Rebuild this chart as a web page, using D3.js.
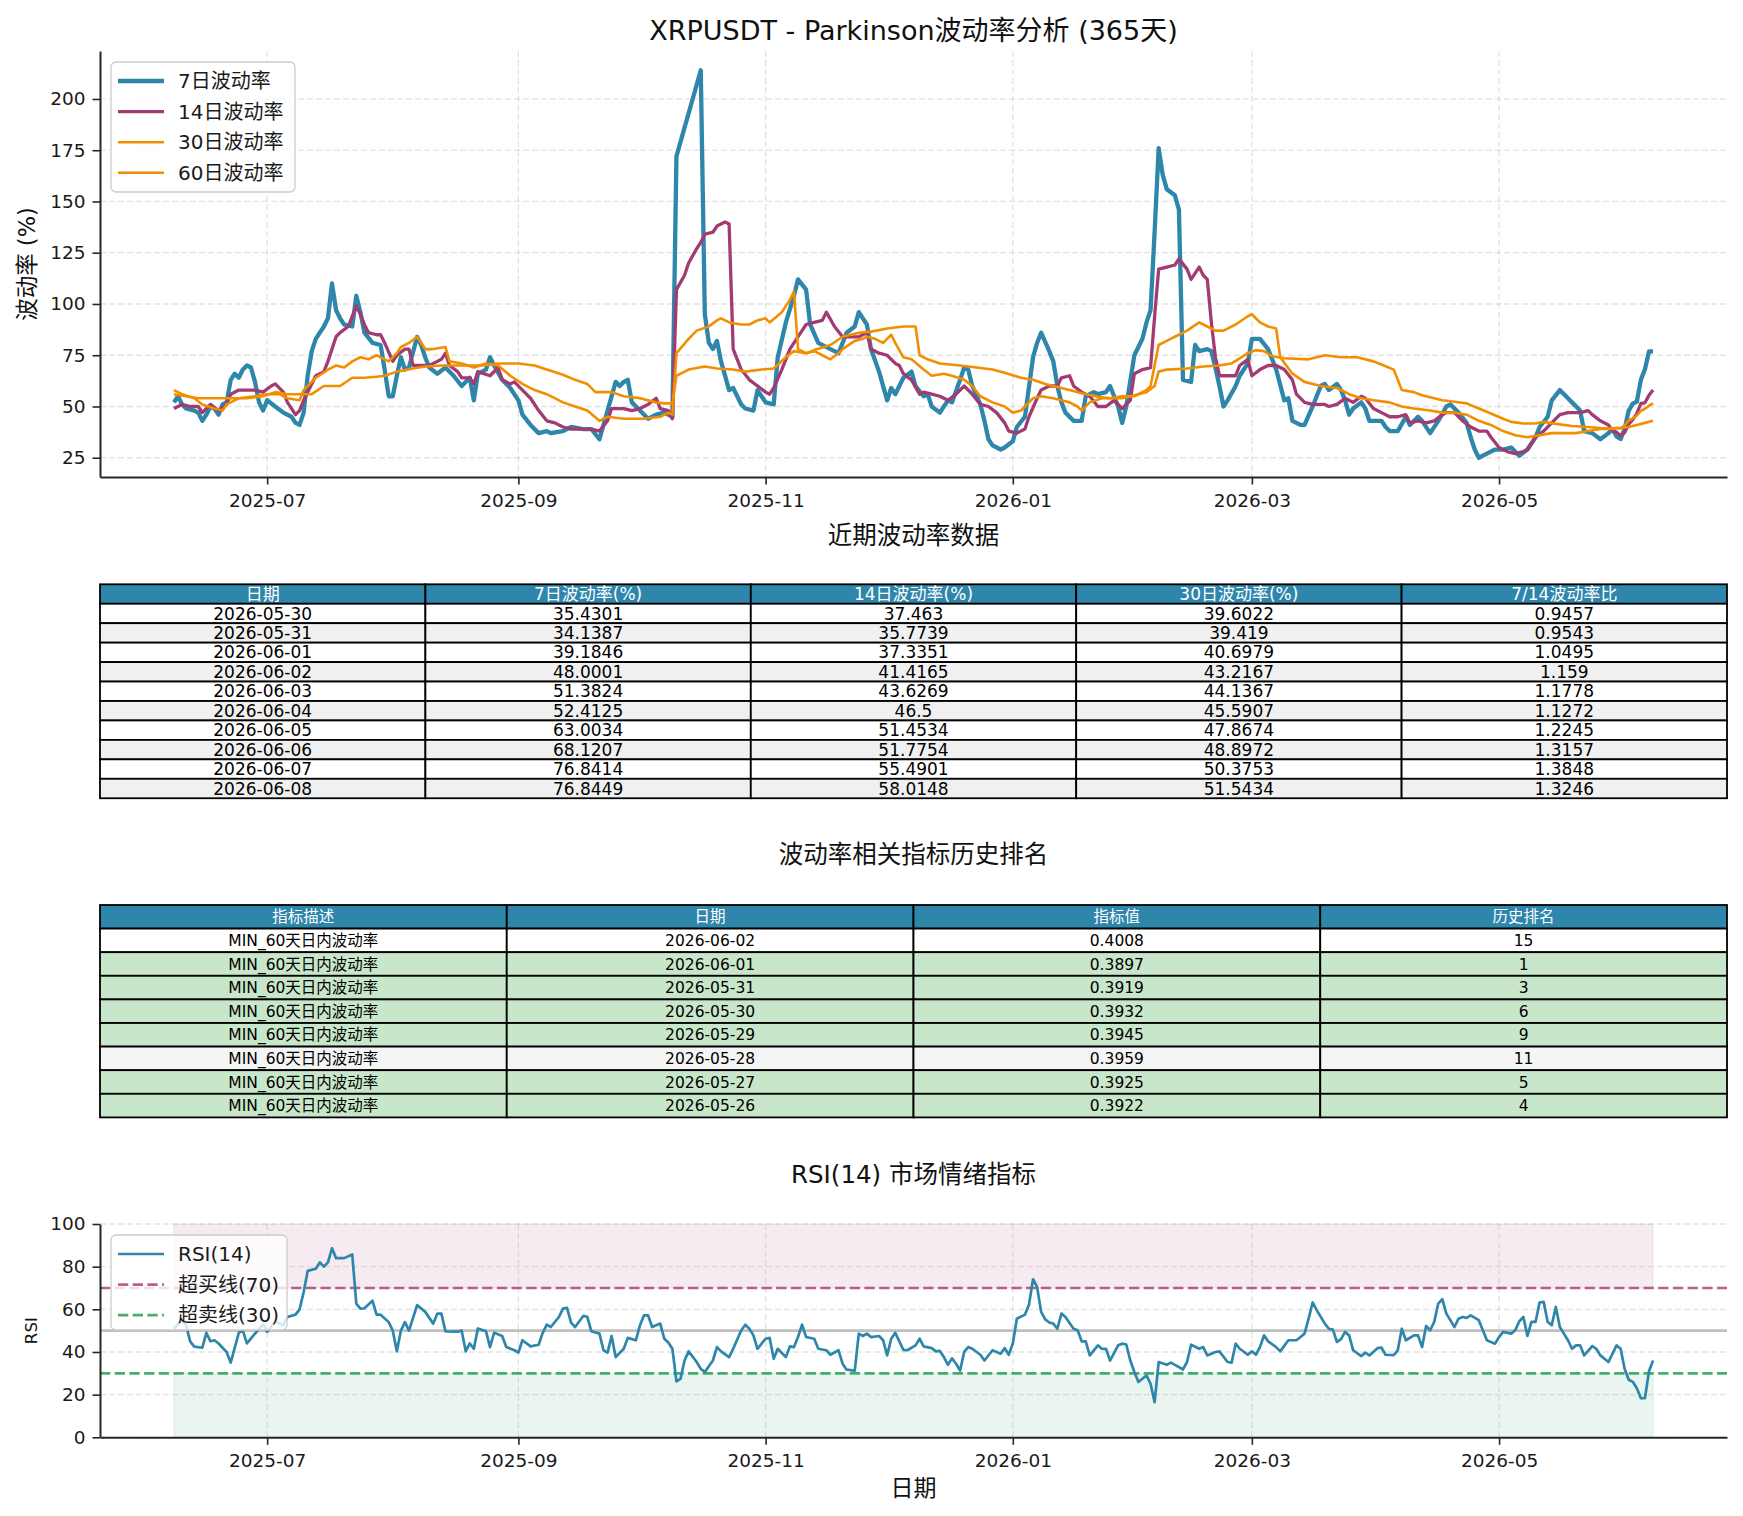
<!DOCTYPE html>
<html>
<head>
<meta charset="utf-8">
<script src="https://cdn.jsdelivr.net/npm/d3@7"></script>
<style>
  body { margin: 0; background: #fff; }
  text { font-family: "DejaVu Sans", "Noto Sans CJK SC", sans-serif; }
</style>
</head>
<body>
<svg id="chart"></svg>
<script>
// series are [day offset from START, value]
var START = "2025-06-08";
var END = "2026-06-08";

var vol7 = [[0,52],[1,55],[2,51],[3,49],[5,48],[6,47],[7,43],[8,46],[9,50],[10,49],[11,46],[12,51],[13,52],[14,63],[15,66],[16,64],[17,68],[18,70],[19,69],[20,62],[21,52],[22,48],[23,53],[25,50],[27,47],[29,45],[30,42],[31,41],[32,47],[33,65],[34,77],[35,83],[36,86],[37,89],[38,93],[39,110],[40,97],[41,93],[42,90],[44,89],[45,104],[46,96],[47,86],[49,81],[51,80],[52,68],[53,55],[54,55],[55,65],[56,74],[57,68],[58,69],[60,84],[61,80],[62,74],[63,69],[65,66],[67,69],[69,65],[71,60],[73,64],[74,53],[75,66],[77,68],[78,74],[79,70],[81,63],[83,59],[85,53],[86,46],[88,41],[90,37],[92,38],[93,37],[96,38],[98,40],[101,39],[103,39],[105,34],[107,48],[109,62],[110,60],[111,62],[112,63],[113,52],[115,48],[117,44],[119,46],[121,47],[123,45],[124,172],[126,186],[127,193],[128,200],[130,214],[131,95],[132,81],[133,78],[134,82],[135,72],[137,58],[138,59],[140,51],[141,49],[143,48],[144,58],[146,52],[148,51],[149,74],[151,91],[153,104],[154,112],[156,107],[157,90],[159,81],[162,78],[164,76],[166,86],[168,89],[169,96],[171,90],[172,78],[174,67],[176,53],[177,59],[178,56],[180,64],[182,67],[183,60],[185,55],[186,56],[187,50],[189,47],[191,53],[192,52],[194,63],[195,69],[196,68],[197,60],[199,51],[200,43],[201,34],[202,31],[204,29],[205,30],[207,33],[208,40],[210,45],[212,74],[213,81],[214,86],[216,77],[217,72],[218,60],[219,52],[220,47],[222,43],[224,43],[225,55],[227,57],[228,56],[230,57],[231,60],[233,50],[234,42],[235,50],[237,75],[239,83],[240,91],[241,97],[242,135],[243,176],[244,163],[245,156],[247,153],[248,146],[249,63],[251,62],[252,80],[253,77],[255,78],[256,77],[257,69],[258,60],[259,50],[260,53],[262,60],[263,65],[265,71],[266,83],[268,83],[270,78],[272,68],[274,53],[275,54],[276,43],[278,41],[279,41],[281,50],[283,60],[284,61],[285,58],[287,61],[288,58],[289,53],[290,46],[291,49],[293,52],[294,49],[295,43],[298,43],[299,40],[300,38],[302,38],[304,45],[305,41],[307,45],[308,43],[310,37],[312,43],[314,50],[315,51],[317,47],[319,42],[320,35],[321,29],[322,25],[324,27],[326,29],[328,29],[330,30],[332,26],[334,29],[336,35],[337,40],[339,45],[340,53],[342,58],[344,54],[345,52],[347,48],[348,38],[350,37],[352,34],[354,37],[355,39],[356,35.43],[357,34.14],[358,39.18],[359,48.0],[360,51.38],[361,52.41],[362,63.0],[363,68.12],[364,76.84],[365,76.84]];

var vol14 = [[0,49],[2,51],[4,50],[6,50],[7,47],[9,51],[11,48],[13,51],[14,56],[16,58],[18,58],[20,58],[22,57],[24,60],[25,61],[27,57],[28,52],[30,46],[31,48],[32,53],[34,61],[35,65],[37,67],[38,72],[40,84],[41,86],[43,89],[44,94],[45,99],[46,95],[47,90],[48,86],[50,85],[51,85],[52,81],[54,72],[55,75],[57,78],[58,78],[59,70],[61,70],[63,70],[65,72],[66,73],[67,76],[68,70],[70,67],[71,64],[73,64],[74,61],[75,67],[78,65],[80,69],[81,63],[83,61],[84,62],[86,58],[88,54],[90,48],[92,43],[94,42],[96,40],[98,39],[101,39],[103,39],[105,38],[107,43],[108,49],[111,49],[113,48],[115,49],[117,51],[119,54],[120,49],[122,48],[123,44],[124,107],[126,114],[127,120],[129,127],[130,130],[131,134],[133,135],[134,138],[136,140],[137,139],[138,78],[139,73],[140,68],[142,63],[144,60],[146,57],[147,56],[148,59],[150,68],[152,78],[153,81],[155,87],[156,90],[158,91],[160,92],[161,96],[163,89],[165,84],[167,84],[169,84],[171,86],[172,78],[174,76],[176,75],[178,71],[179,70],[180,66],[182,63],[184,56],[185,57],[187,56],[189,55],[191,53],[193,56],[195,60],[197,56],[199,51],[201,50],[203,47],[205,42],[206,38],[208,37],[210,39],[211,45],[213,54],[214,58],[216,60],[218,60],[219,64],[221,65],[222,60],[224,57],[226,55],[228,50],[230,50],[232,53],[234,49],[236,53],[237,66],[239,68],[241,69],[242,94],[243,117],[245,118],[247,119],[248,122],[250,117],[251,112],[253,118],[254,114],[255,112],[256,91],[257,74],[258,65],[260,65],[262,65],[263,70],[265,73],[266,65],[268,68],[270,70],[272,70],[274,68],[276,63],[277,56],[279,52],[281,51],[284,51],[285,50],[287,51],[289,54],[291,52],[293,55],[294,54],[296,49],[298,47],[300,45],[302,45],[304,46],[305,42],[307,43],[309,42],[311,43],[313,46],[314,47],[316,47],[318,43],[320,40],[322,38],[324,38],[325,35],[327,30],[329,28],[331,27],[333,28],[334,29],[336,35],[338,38],[340,42],[342,46],[344,47],[345,47],[347,47],[349,48],[350,46],[352,43],[354,41],[355,38],[356,37.463],[357,35.7739],[358,37.3351],[359,41.4165],[360,43.6269],[361,46.5],[362,51.4534],[363,51.7754],[364,55.4901],[365,58.0148]];

var vol30 = [[0,58],[2,56],[5,54],[7,51],[10,49],[12,48],[13,51],[16,54],[20,55],[23,56],[26,56],[28,54],[31,53],[32,58],[35,64],[38,68],[40,70],[42,69],[44,72],[46,74],[48,73],[50,75],[53,72],[55,76],[56,79],[58,81],[60,84],[62,78],[64,78],[67,79],[68,72],[71,71],[74,69],[77,71],[80,70],[83,65],[86,61],[89,58],[92,56],[96,52],[99,50],[102,48],[105,43],[107,45],[111,44],[116,44],[120,45],[122,47],[123,46],[124,76],[127,83],[129,87],[132,89],[134,92],[135,93],[137,91],[140,90],[142,90],[144,92],[146,93],[147,91],[150,96],[152,102],[153,106],[154,78],[156,76],[158,77],[160,75],[162,73],[164,76],[165,78],[168,82],[170,83],[171,84],[173,83],[175,81],[177,85],[178,81],[180,74],[182,73],[185,68],[187,65],[190,66],[192,65],[195,63],[197,60],[199,55],[202,52],[205,50],[207,47],[209,48],[212,54],[214,55],[217,54],[219,53],[221,52],[223,50],[224,48],[226,52],[229,54],[231,54],[234,55],[237,55],[240,58],[241,60],[243,80],[245,82],[247,84],[250,87],[253,91],[255,89],[257,87],[259,87],[262,90],[265,94],[266,95],[268,91],[270,89],[272,88],[273,74],[276,66],[279,62],[283,60],[287,59],[290,56],[293,54],[296,53],[300,52],[303,50],[306,49],[310,48],[313,47],[316,47],[319,46],[322,43],[325,41],[328,38],[331,36],[334,35],[337,36],[340,37],[343,37],[346,37],[349,38],[352,39],[354,39],[356,39.6022],[357,39.419],[358,40.6979],[359,43.2167],[360,44.1367],[361,45.5907],[362,47.8674],[363,48.8972],[364,50.3753],[365,51.5434]];

var vol60 = [[0,56],[3,55],[6,54],[10,54],[14,54],[18,54],[22,55],[25,57],[28,56],[31,56],[34,56],[37,60],[41,60],[44,64],[47,64],[50,64.5],[52,65],[55,67],[59,68.5],[62,69.5],[66,70],[71,70],[76,70],[80,71],[85,71],[89,70],[92,68],[96,65.5],[99,63],[102,61],[104,57],[108,57],[111,55],[115,54],[119,52],[121,51.5],[123,51.5],[124,65],[127,68],[131,69.5],[134,68.5],[138,68],[141,67],[145,68],[148,68.5],[151,74],[153,77],[156,76],[158,77.5],[162,80],[165,84],[169,86],[172,86.5],[176,88],[180,89],[183,89],[184,75],[186,73],[189,71],[194,70],[198,69],[202,68],[205,66.5],[209,64],[212,63],[215,61],[218,59.5],[221,58],[224,56.5],[228,54.7],[231,54],[234,54],[236,55],[238,56],[240,57],[242,60],[243,67],[245,68],[250,68.5],[254,69.5],[258,70],[261,71],[263,73.5],[265,76],[267,77.5],[269,77],[271,74.5],[274,73.5],[280,73],[284,75],[288,74],[292,74],[296,72],[298,70.5],[301,68],[303,58],[306,57],[308,55.5],[311,54],[313,53],[316,52.3],[319,51.5],[322,49],[325,46.6],[328,44],[330,42.5],[333,41.7],[336,41.7],[338,42.5],[341,41.5],[345,40.5],[349,40],[352,39.5],[355,39.2],[357,39.5],[359,40],[361,41],[363,42],[365,43]];

var rsi14 = [[0,51],[2,55],[3,52.5],[4,45],[5,42.5],[7,42],[8,49],[9,45],[10,45.5],[11,44],[13,40],[14,35],[16,49],[17,50],[18,44],[20,48.6],[22,53],[23,49.4],[25,54.4],[27,52.5],[28,56.4],[30,57.5],[31,60],[32,68],[33,78],[35,79],[36,82],[37,80],[38,82],[39,88.6],[40,84],[42,84],[44,85.7],[45,62.7],[46,60.3],[47,60.5],[49,64],[50,57.5],[51,57.5],[53,54],[54,50],[55,40.3],[56,50],[57,54],[58,50],[60,62],[62,58.8],[64,53.3],[65,58],[66,58],[67,49.7],[70,49.5],[71,50],[72,40.3],[73,44],[74,41.5],[75,51],[77,49.7],[78,42.3],[79,49],[81,47.5],[82,42.3],[84,40.8],[85,39.7],[86,45.5],[88,42.6],[90,43.4],[91,49],[92,52.8],[93,51.7],[95,56.4],[96,60.3],[97,60.7],[98,53.8],[99,51.7],[101,56.9],[102,56.5],[103,49.7],[105,48.6],[106,40.8],[107,39.7],[108,47.5],[109,37.6],[111,41.5],[112,46.6],[114,45.5],[115,52.5],[116,57.2],[117,57.2],[118,51.7],[120,53.3],[121,46.2],[122,44.4],[123,41.5],[124,26.2],[125,27.4],[126,36],[127,40.3],[129,35.3],[130,32.1],[131,30.6],[133,36],[134,42.3],[135,40.3],[137,37.6],[138,41.5],[140,50.2],[141,52.8],[142,50.9],[143,47.8],[144,41.5],[146,46.2],[147,46.6],[148,36.8],[149,41.5],[151,37.6],[152,42.6],[153,42.3],[154,47],[155,52.8],[156,47],[158,46.2],[159,41.5],[161,40.8],[162,38.7],[164,40.8],[165,34.5],[166,31.7],[168,31.3],[169,48.6],[170,47.5],[171,48.6],[172,47],[174,47.5],[175,45.5],[176,38.4],[177,46.2],[178,49],[180,41],[181,40.8],[183,43.1],[184,46.2],[185,42.6],[187,41.8],[188,40.3],[189,40.5],[190,37.6],[191,34],[192,37],[193,34.5],[194,31.3],[195,40],[196,42.3],[197,41.5],[199,38.7],[200,36],[202,40.8],[204,39.2],[205,41.8],[206,38.7],[207,43.9],[208,55.6],[210,57.5],[211,62.2],[212,74.1],[213,70.5],[214,58.8],[215,55.3],[216,53.8],[217,53.3],[218,50.9],[219,58],[220,56.4],[222,50.9],[223,50.2],[224,45],[225,45],[226,38.4],[228,43.1],[229,41.5],[230,41.5],[231,36],[233,43.1],[234,43.9],[235,43.5],[236,36],[237,30.6],[238,25.9],[240,29],[241,25.1],[242,16.5],[243,35.3],[245,34],[246,35],[248,32.9],[249,31.8],[250,35.3],[251,43.4],[253,41.5],[254,42.3],[255,38.4],[257,40],[258,40.3],[260,35.3],[261,35],[262,43.9],[263,41.5],[265,38.7],[266,40.3],[267,38.7],[268,42.3],[269,47.8],[270,45],[272,42.3],[273,40.3],[275,45.5],[277,45.5],[278,47],[279,48.6],[280,55.6],[281,63.2],[282,59.6],[284,53.3],[285,50.9],[286,50.5],[287,44.7],[288,46],[289,49.4],[290,47.8],[291,40.8],[293,38.1],[294,39.7],[295,38.4],[297,41.8],[298,42],[299,38.7],[301,38.5],[302,40.8],[303,50.9],[304,45.5],[306,47.8],[307,47.8],[308,42.3],[309,52.2],[310,50.2],[311,54.1],[312,62.7],[313,64.7],[314,58],[316,51.7],[317,55.6],[318,56.4],[319,56],[320,57.2],[322,54.9],[323,50.2],[324,45.5],[326,43.9],[327,47],[328,49.4],[330,48.6],[331,50.2],[332,54.4],[333,56.4],[334,47.5],[335,54.1],[336,54.1],[337,63.2],[338,63.5],[339,54.1],[340,52.5],[341,61.1],[342,51.7],[343,48.6],[344,45.5],[345,41.5],[346,43.1],[347,43.1],[348,38.4],[350,42.8],[351,41.5],[352,38.4],[354,35.3],[355,39.2],[356,43.1],[357,41.5],[358,32],[359,27],[360,26],[361,23],[362,18.3],[363,18.3],[364,31],[365,36]];

var monthTicks = ["2025-07-01","2025-09-01","2025-11-01","2026-01-01","2026-03-01","2026-05-01"];
var volTicks = [25,50,75,100,125,150,175,200];
var rsiTicks = [0,20,40,60,80,100];

var recentHeaders = ["日期","7日波动率(%)","14日波动率(%)","30日波动率(%)","7/14波动率比"];
var recentDates = ["2026-05-30","2026-05-31","2026-06-01","2026-06-02","2026-06-03","2026-06-04","2026-06-05","2026-06-06","2026-06-07","2026-06-08"];
var recent7 = [35.4301,34.1387,39.1846,48.0001,51.3824,52.4125,63.0034,68.1207,76.8414,76.8449];
var recent14 = [37.463,35.7739,37.3351,41.4165,43.6269,46.5,51.4534,51.7754,55.4901,58.0148];
var recent30 = [39.6022,39.419,40.6979,43.2167,44.1367,45.5907,47.8674,48.8972,50.3753,51.5434];
var recentRatio = [0.9457,0.9543,1.0495,1.159,1.1778,1.1272,1.2245,1.3157,1.3848,1.3246];

var rankHeaders = ["指标描述","日期","指标值","历史排名"];
var rankDesc = ["MIN_60天日内波动率","MIN_60天日内波动率","MIN_60天日内波动率","MIN_60天日内波动率","MIN_60天日内波动率","MIN_60天日内波动率","MIN_60天日内波动率","MIN_60天日内波动率"];
var rankDates = ["2026-06-02","2026-06-01","2026-05-31","2026-05-30","2026-05-29","2026-05-28","2026-05-27","2026-05-26"];
var rankValues = [0.4008,0.3897,0.3919,0.3932,0.3945,0.3959,0.3925,0.3922];
var rankPos = [15,1,3,6,9,11,5,4];

var W = 1743, H = 1516;
var FONT = '"DejaVu Sans", "Noto Sans CJK SC", sans-serif';
var BLUE = "#2E86AB", PURPLE = "#A23B72", ORANGE = "#F18F01";
var GREEN = "#27A057";

var parse = d3.utcParse("%Y-%m-%d");
var start = parse(START), end = parse(END);
function day(d) { return d3.utcDay.offset(start, d); }

var svg = d3.select("#chart").attr("width", W).attr("height", H)
  .style("background", "#fff");

var left = 100, right = 1727;

var x = d3.scaleUtc()
  .domain([d3.utcHour.offset(start, -438), d3.utcHour.offset(end, 438)])
  .range([left, right]);

function styleAxis(g) {
  g.attr("font-family", FONT).attr("font-size", 18.5);
  g.select(".domain").attr("stroke", "#262626").attr("stroke-width", 2);
  g.selectAll(".tick line").attr("stroke", "#262626").attr("stroke-width", 1.6);
  g.selectAll(".tick text").attr("fill", "#1a1a1a");
}

function grid(g, yScale, yTicks, top, bottom) {
  g.selectAll(".gx").data(monthTicks).enter().append("line")
    .attr("x1", function(d){ return x(parse(d)); })
    .attr("x2", function(d){ return x(parse(d)); })
    .attr("y1", top).attr("y2", bottom)
    .attr("stroke", "#b0b0b0").attr("stroke-opacity", 0.35)
    .attr("stroke-width", 1.3).attr("stroke-dasharray", "6,3");
  g.selectAll(".gy").data(yTicks).enter().append("line")
    .attr("x1", left).attr("x2", right)
    .attr("y1", function(d){ return yScale(d); })
    .attr("y2", function(d){ return yScale(d); })
    .attr("stroke", "#b0b0b0").attr("stroke-opacity", 0.35)
    .attr("stroke-width", 1.3).attr("stroke-dasharray", "6,3");
}

function xAxis(g, yPos) {
  g.attr("transform", "translate(0," + yPos + ")")
    .call(d3.axisBottom(x)
      .tickValues(monthTicks.map(parse))
      .tickFormat(d3.utcFormat("%Y-%m"))
      .tickSize(7.5).tickSizeOuter(0).tickPadding(9));
  styleAxis(g);
}

function legend(g, items, x0, y0, w, h) {
  g.append("rect").attr("x", x0).attr("y", y0).attr("width", w).attr("height", h)
    .attr("rx", 5).attr("fill", "#fff").attr("fill-opacity", 0.8)
    .attr("stroke", "#cccccc").attr("stroke-width", 1.3);
  items.forEach(function(it, i) {
    var yy = y0 + 19 + i * 30.6;
    g.append("line").attr("x1", x0 + 7).attr("x2", x0 + 53)
      .attr("y1", yy).attr("y2", yy)
      .attr("stroke", it.color).attr("stroke-width", it.width)
      .attr("stroke-opacity", it.opacity || 1)
      .attr("stroke-dasharray", it.dash || null);
    g.append("text").attr("x", x0 + 67).attr("y", yy).attr("dy", "0.35em")
      .attr("font-size", 20).attr("fill", "#1a1a1a").text(it.name);
  });
}

// ---------- top chart: volatility ----------
var top1 = 51, bot1 = 477;
var y1 = d3.scaleLinear().domain([15.6, 223.4]).range([bot1, top1]);

svg.append("text").attr("x", (left + right) / 2).attr("y", 40)
  .attr("text-anchor", "middle").attr("font-size", 27).attr("fill", "#111")
  .text("XRPUSDT - Parkinson波动率分析 (365天)");

grid(svg.append("g"), y1, volTicks, top1, bot1);

var line1 = d3.line()
  .x(function(d){ return x(day(d[0])); })
  .y(function(d){ return y1(d[1]); });

var volSeries = [
  {name: "7日波动率", data: vol7, color: BLUE, width: 4.3},
  {name: "14日波动率", data: vol14, color: PURPLE, width: 3.3},
  {name: "30日波动率", data: vol30, color: ORANGE, width: 2.6},
  {name: "60日波动率", data: vol60, color: ORANGE, width: 2.6}
];

svg.append("g").selectAll("path").data(volSeries).enter().append("path")
  .attr("d", function(s){ return line1(s.data); })
  .attr("fill", "none")
  .attr("stroke", function(s){ return s.color; })
  .attr("stroke-width", function(s){ return s.width; })
  .attr("stroke-linejoin", "round");

xAxis(svg.append("g"), bot1);
var ya1 = svg.append("g").attr("transform", "translate(" + left + ",0)")
  .call(d3.axisLeft(y1).tickValues(volTicks).tickSize(7.5).tickSizeOuter(0).tickPadding(7));
styleAxis(ya1);

svg.append("text").attr("transform", "translate(27," + (top1 + bot1) / 2 + ") rotate(-90)")
  .attr("text-anchor", "middle").attr("dy", "0.35em")
  .attr("font-size", 22.5).attr("fill", "#111").text("波动率 (%)");

legend(svg.append("g"), volSeries, 111, 62, 184, 130);

// ---------- tables ----------
function table(title, titleY, headers, rows, rowFill, top, rowH, fontSize) {
  var g = svg.append("g");
  g.append("text").attr("x", (left + right) / 2).attr("y", titleY).attr("dy", "0.35em")
    .attr("text-anchor", "middle").attr("font-size", 24.5).attr("fill", "#111").text(title);
  var colW = (right - left) / headers.length;
  var all = [headers].concat(rows);
  all.forEach(function(r, i) {
    var fill = i === 0 ? BLUE : rowFill(i - 1);
    r.forEach(function(c, j) {
      g.append("rect").attr("x", left + j * colW).attr("y", top + i * rowH)
        .attr("width", colW).attr("height", rowH)
        .attr("fill", fill).attr("stroke", "#000").attr("stroke-width", 1.8);
    });
  });
  all.forEach(function(r, i) {
    r.forEach(function(c, j) {
      g.append("text").attr("x", left + (j + 0.5) * colW).attr("y", top + (i + 0.5) * rowH)
        .attr("dy", "0.36em").attr("text-anchor", "middle").attr("font-size", fontSize)
        .attr("fill", i === 0 ? "#fff" : "#000").text(String(c));
    });
  });
}

var recentRows = recentDates.map(function(d, i) {
  return [d, recent7[i], recent14[i], recent30[i], recentRatio[i]];
});
table("近期波动率数据", 535, recentHeaders, recentRows,
  function(i){ return i % 2 ? "#f0f0f0" : "#ffffff"; }, 584.3, 19.45, 17);

var rankRows = rankDesc.map(function(d, i) {
  return [d, rankDates[i], rankValues[i], rankPos[i]];
});
table("波动率相关指标历史排名", 854, rankHeaders, rankRows,
  function(i){ return rankPos[i] <= 10 ? "#C8E6C9" : (i % 2 ? "#f5f5f5" : "#ffffff"); },
  905, 23.6, 15.5);

// ---------- RSI chart ----------
var top3 = 1224, bot3 = 1437.3;
var y3 = d3.scaleLinear().domain([0, 100]).range([bot3, top3]);

svg.append("text").attr("x", (left + right) / 2).attr("y", 1174).attr("dy", "0.35em")
  .attr("text-anchor", "middle").attr("font-size", 24.5).attr("fill", "#111")
  .text("RSI(14) 市场情绪指标");

var x0 = x(day(rsi14[0][0])), x1 = x(day(rsi14[rsi14.length - 1][0]));
svg.append("rect").attr("x", x0).attr("y", y3(100)).attr("width", x1 - x0)
  .attr("height", y3(70) - y3(100)).attr("fill", PURPLE).attr("fill-opacity", 0.1)
  .attr("stroke", PURPLE).attr("stroke-opacity", 0.12);
svg.append("rect").attr("x", x0).attr("y", y3(30)).attr("width", x1 - x0)
  .attr("height", y3(0) - y3(30)).attr("fill", GREEN).attr("fill-opacity", 0.1)
  .attr("stroke", GREEN).attr("stroke-opacity", 0.12);

grid(svg.append("g"), y3, rsiTicks, top3, bot3);

svg.append("line").attr("x1", left).attr("x2", right)
  .attr("y1", y3(50)).attr("y2", y3(50))
  .attr("stroke", "#808080").attr("stroke-opacity", 0.5).attr("stroke-width", 2.6);

var refLines = [
  {name: "超买线(70)", level: 70, color: PURPLE, width: 2.7, dash: "10.3,4.4", opacity: 0.8},
  {name: "超卖线(30)", level: 30, color: GREEN, width: 2.7, dash: "10.3,4.4", opacity: 0.85}
];
svg.append("g").selectAll("line").data(refLines).enter().append("line")
  .attr("x1", left).attr("x2", right)
  .attr("y1", function(d){ return y3(d.level); })
  .attr("y2", function(d){ return y3(d.level); })
  .attr("stroke", function(d){ return d.color; })
  .attr("stroke-opacity", function(d){ return d.opacity; })
  .attr("stroke-width", function(d){ return d.width; })
  .attr("stroke-dasharray", function(d){ return d.dash; });

var line3 = d3.line()
  .x(function(d){ return x(day(d[0])); })
  .y(function(d){ return y3(d[1]); });
svg.append("path").attr("d", line3(rsi14)).attr("fill", "none")
  .attr("stroke", BLUE).attr("stroke-width", 2.7).attr("stroke-linejoin", "round");

xAxis(svg.append("g"), bot3);
var ya3 = svg.append("g").attr("transform", "translate(" + left + ",0)")
  .call(d3.axisLeft(y3).tickValues(rsiTicks).tickSize(7.5).tickSizeOuter(0).tickPadding(7));
styleAxis(ya3);

svg.append("text").attr("transform", "translate(31.5," + (top3 + bot3) / 2 + ") rotate(-90)")
  .attr("text-anchor", "middle").attr("dy", "0.35em")
  .attr("font-size", 16.6).attr("fill", "#111").text("RSI");
svg.append("text").attr("x", (left + right) / 2).attr("y", 1488).attr("dy", "0.35em")
  .attr("text-anchor", "middle").attr("font-size", 23).attr("fill", "#111").text("日期");

legend(svg.append("g"),
  [{name: "RSI(14)", color: BLUE, width: 2.7}].concat(refLines),
  111, 1235, 176, 95);
</script>
</body>
</html>
